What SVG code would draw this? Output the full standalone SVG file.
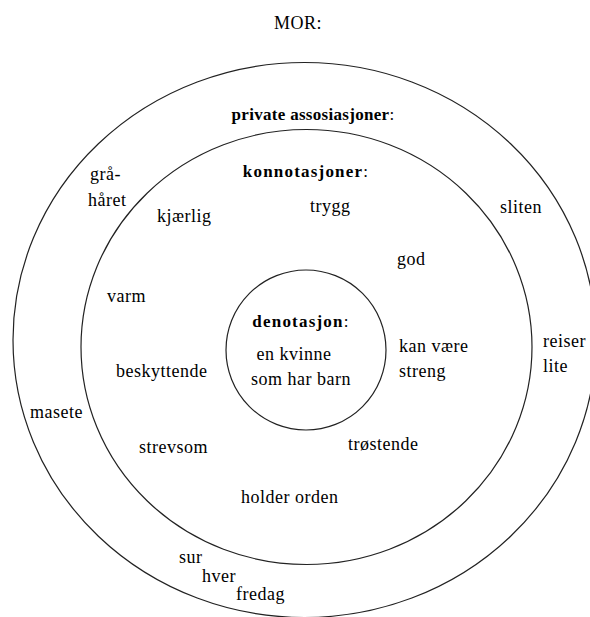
<svg xmlns="http://www.w3.org/2000/svg" width="590" height="617" viewBox="0 0 590 617">
<style>
  text { font-family: "Liberation Serif", "Times New Roman", "DejaVu Serif", serif; font-size: 18px; letter-spacing: 0.5px; fill: #000; }
  .b { font-weight: bold; font-size: 17px; letter-spacing: 0.3px; }
  .wide { letter-spacing: 1.2px; }
  .n { font-weight: normal; }
  .ring { fill: none; stroke: #222; stroke-width: 1.2; }
</style>
<rect width="590" height="617" fill="#fff"/>
<g id="labels" font-family="Liberation Serif, Times New Roman, DejaVu Serif, serif">
<text id="title" x="298" y="29" text-anchor="middle">MOR:</text>
<g id="private">
  <ellipse class="ring" cx="304.5" cy="340" rx="291.5" ry="277.5"/>
  <text class="b" x="313" y="120" text-anchor="middle">private assosiasjoner<tspan class="n">:</tspan></text>
  <text x="90" y="180">grå-</text>
  <text x="88" y="206">håret</text>
  <text x="500" y="213">sliten</text>
  <text x="543" y="347">reiser</text>
  <text x="543" y="372">lite</text>
  <text x="30" y="418">masete</text>
  <text x="179" y="563">sur</text>
  <text x="202" y="582">hver</text>
  <text x="236" y="600">fredag</text>
</g>
<g id="konnotasjoner">
  <ellipse class="ring" cx="306.5" cy="347" rx="225.5" ry="217.5"/>
  <text class="b wide" x="306" y="177" text-anchor="middle">konnotasjoner<tspan class="n">:</tspan></text>
  <text x="157" y="222">kjærlig</text>
  <text x="310" y="212">trygg</text>
  <text x="397" y="265">god</text>
  <text x="107" y="302">varm</text>
  <text x="399" y="352">kan være</text>
  <text x="399" y="377">streng</text>
  <text x="116" y="377">beskyttende</text>
  <text x="139" y="453">strevsom</text>
  <text x="348" y="450">trøstende</text>
  <text x="241" y="503">holder orden</text>
</g>
<g id="denotasjon">
  <circle class="ring" cx="306" cy="350" r="80"/>
  <text class="b wide" x="301" y="327" text-anchor="middle">denotasjon<tspan class="n">:</tspan></text>
  <text x="294" y="360" text-anchor="middle">en kvinne</text>
  <text x="301" y="385" text-anchor="middle">som har barn</text>
</g>
</g>
</svg>
